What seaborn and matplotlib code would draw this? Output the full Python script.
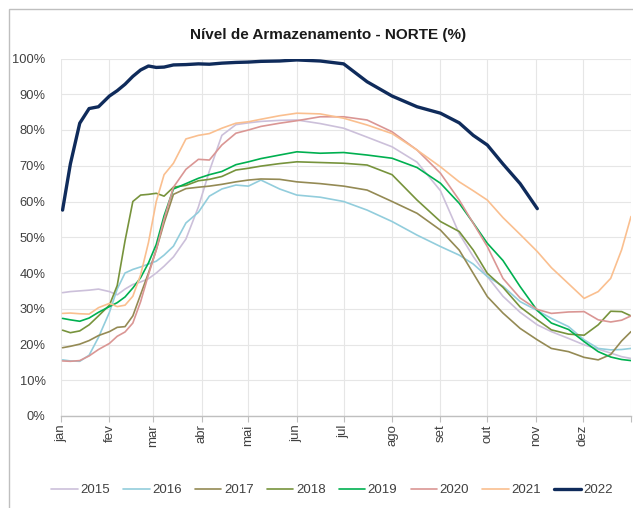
import numpy as np
import pandas as pd
import matplotlib
matplotlib.use('Agg')
import matplotlib.pyplot as plt
from matplotlib.patches import Rectangle
from matplotlib.ticker import PercentFormatter
import seaborn as sns

# dia do ano de cada leitura
dias = [1, 6, 12, 18, 24, 31, 36, 41, 46, 51, 56, 61, 66, 72, 80, 88, 95, 103, 112, 120, 128,
        140, 151, 166, 181, 196, 212, 228, 243, 255, 264, 273, 283, 294, 305, 314, 325, 335,
        344, 352, 359, 365]

ano_2015 = [34.5, 34.8, 35.0, 35.2, 35.5, 34.8, 33.9, 35.5, 36.8, 37.5, 38.4, 40.0, 41.9, 44.5,
            49.5, 58.5, 68.5, 78.5, 81.5, 82.0, 82.4, 82.7, 82.8, 81.8, 80.5, 78.0, 75.3, 71.0,
            63.0, 51.0, 44.6, 39.0, 33.5, 29.0, 25.5, 23.6, 21.7, 19.9, 18.7, 17.6, 16.6, 16.1]
ano_2016 = [15.7, 15.4, 15.3, 17.0, 22.0, 29.0, 35.5, 40.0, 41.0, 41.7, 42.5, 43.3, 45.0, 47.5,
            54.0, 57.0, 61.5, 63.5, 64.6, 64.3, 66.0, 63.5, 61.8, 61.2, 60.0, 57.6, 54.4, 50.6,
            47.4, 45.0, 42.5, 39.0, 36.3, 32.0, 29.5, 27.3, 25.0, 21.3, 18.9, 18.5, 18.6, 18.9]
ano_2017 = [19.1, 19.5, 20.1, 21.1, 22.5, 23.6, 24.8, 25.0, 28.0, 34.0, 40.0, 46.5, 54.0, 62.0,
            63.6, 64.0, 64.3, 64.8, 65.5, 66.0, 66.3, 66.2, 65.5, 65.0, 64.3, 63.2, 60.0, 56.7,
            52.0, 46.4, 39.9, 33.4, 28.8, 24.5, 21.3, 18.9, 18.0, 16.4, 15.7, 17.2, 21.0, 23.6]
ano_2018 = [24.0, 23.3, 23.8, 25.5, 28.0, 31.0, 36.5, 49.0, 60.0, 61.8, 62.0, 62.3, 61.5, 64.0,
            64.5, 65.8, 66.2, 67.0, 68.8, 69.3, 69.9, 70.6, 71.1, 70.9, 70.7, 70.2, 67.5, 60.4,
            54.4, 51.6, 46.4, 39.9, 36.0, 30.5, 26.9, 24.1, 22.9, 22.6, 25.5, 29.3, 29.2, 28.0]
ano_2019 = [27.3, 26.9, 26.5, 27.4, 29.0, 30.6, 31.7, 33.3, 35.8, 38.7, 42.8, 48.0, 56.0, 63.5,
            65.0, 66.5, 67.5, 68.4, 70.3, 71.1, 72.0, 73.0, 73.9, 73.5, 73.7, 73.0, 72.1, 69.5,
            65.1, 59.5, 54.0, 48.3, 43.5, 36.2, 29.5, 26.0, 24.2, 20.8, 18.0, 16.5, 15.8, 15.5]
ano_2020 = [15.4, 15.3, 15.5, 16.8, 18.6, 20.3, 22.3, 23.5, 26.0, 32.0, 39.5, 46.5, 55.0, 64.0,
            69.0, 71.8, 71.6, 75.8, 79.1, 80.0, 81.0, 81.9, 82.6, 83.7, 83.7, 82.8, 79.5, 74.4,
            67.9, 60.4, 53.9, 47.4, 38.5, 33.0, 29.8, 28.7, 29.1, 29.2, 26.9, 26.3, 26.8, 28.0]
ano_2021 = [28.7, 28.8, 28.6, 28.5, 30.3, 31.5, 30.6, 31.0, 33.5, 39.5, 48.5, 60.0, 67.5, 70.7,
            77.5, 78.5, 79.0, 80.5, 81.9, 82.3, 83.0, 84.0, 84.7, 84.5, 83.3, 81.4, 79.0, 74.4,
            69.7, 65.5, 63.0, 60.4, 55.5, 50.8, 46.0, 41.5, 37.0, 32.9, 34.8, 38.5, 46.5, 55.8]
ano_2022 = [57.6, 70.5, 81.9, 86.0, 86.5, 89.5, 91.0, 92.8, 95.0, 96.8, 97.9, 97.5, 97.6, 98.2,
            98.3, 98.5, 98.4, 98.7, 98.9, 99.0, 99.2, 99.3, 99.6, 99.3, 98.5, 93.5, 89.5, 86.5,
            84.7, 82.0, 78.5, 75.8, 70.5, 65.0, 58.0] + [np.nan] * 7

series = {'2015': ano_2015, '2016': ano_2016, '2017': ano_2017, '2018': ano_2018,
          '2019': ano_2019, '2020': ano_2020, '2021': ano_2021, '2022': ano_2022}
cores = {'2015': '#ccc0da', '2016': '#92cddc', '2017': '#948a54', '2018': '#77933c',
         '2019': '#00b050', '2020': '#da9694', '2021': '#fabf8f', '2022': '#0f2b5b'}

meses = ['jan', 'fev', 'mar', 'abr', 'mai', 'jun', 'jul', 'ago', 'set', 'out', 'nov', 'dez']
inicio_mes = [0, 31, 59, 90, 120, 151, 181, 212, 243, 273, 304, 334, 365]

sns.set_style('white')
plt.rcParams['font.family'] = ['Liberation Sans', 'DejaVu Sans']

fig = plt.figure(figsize=(6.33, 5.08), dpi=100)
ax = fig.add_axes([61 / 633, 92 / 508, 570 / 633, 357.5 / 508])

for ano, vals in series.items():
    lw = 2.4 if ano == '2022' else 1.2
    sns.lineplot(x=dias, y=vals, color=cores[ano], linewidth=lw, label=ano, ax=ax)

ax.set_xlim(0, 365)
ax.set_ylim(0, 100)
ax.set_yticks(range(0, 101, 10))
ax.yaxis.set_major_formatter(PercentFormatter(decimals=0))
ax.set_xticks(inicio_mes)
ax.set_xticklabels(meses + [''], rotation=90)
ax.grid(True, color='#e6e6e6', linewidth=0.8)
ax.set_axisbelow(True)
for s in ['top', 'right', 'left']:
    ax.spines[s].set_visible(False)
ax.spines['bottom'].set_color('#bfbfbf')
ax.spines['bottom'].set_linewidth(1.0)
ax.tick_params(axis='y', length=0, pad=11, labelsize=9.3, labelcolor='#404040')
ax.tick_params(axis='x', length=4, width=0.8, color='#bfbfbf', pad=2, labelsize=9.5,
               labelcolor='#404040', direction='out', bottom=True)
ax.set_xlabel('')
ax.set_ylabel('')

ax.legend(loc='center', bbox_to_anchor=(332 / 633, 1 - 490 / 508), bbox_transform=fig.transFigure,
          ncol=8, frameon=False, fontsize=9.5, handlelength=2.0, columnspacing=1.0,
          handletextpad=0.2, labelcolor='#404040', borderaxespad=0)

fig.text(328 / 633, 1 - 35 / 508, 'Nível de Armazenamento - NORTE (%)', ha='center', va='center',
         fontsize=11, fontweight='bold', color='#1a1a1a')

fig.patches.append(Rectangle((9 / 633, -0.02), 1.0, 1.02 - 9 / 508, transform=fig.transFigure,
                             fill=False, edgecolor='#bfbfbf', linewidth=1.0))

fig.savefig('out.png', dpi=100, facecolor='white')
